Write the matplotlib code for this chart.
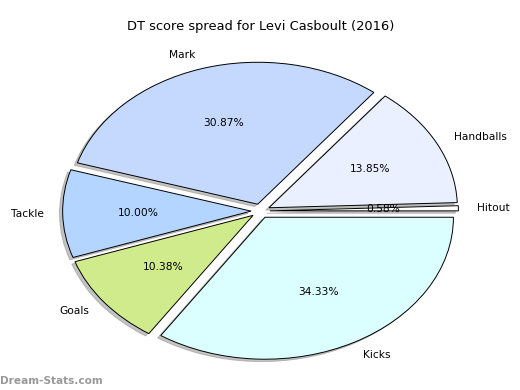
import matplotlib.pyplot as plt

# data
labels = ["Hitout", "Handballs", "Mark", "Tackle", "Goals", "Kicks"]
shares = [0.58, 13.85, 30.87, 10.00, 10.38, 34.33]
colours = ["#ffffff", "#eaf0ff", "#c5d9ff", "#b4d5ff", "#d0eb8c", "#dbffff"]
explode = [0.05, 0.05, 0.05, 0.05, 0.05, 0.05]

fig = plt.figure(figsize=(5.2, 3.9), dpi=100)
ax = fig.add_axes([0.048, 0.004, 0.906, 0.91])

wedges, texts, autotexts = ax.pie(
    shares,
    labels=labels,
    colors=colours,
    explode=explode,
    autopct="%1.2f%%",
    shadow={"ox": -0.012, "oy": -0.012, "color": "#888888"},
    startangle=0,
    wedgeprops={"edgecolor": "black", "linewidth": 0.7},
    textprops={"fontsize": 7.7},
)

ax.set_aspect("auto")
ax.set_xlim(-1.25, 1.25)
ax.set_ylim(-1.25, 1.25)

ax.set_title("DT score spread for Levi Casboult (2016)", fontsize=9.4, pad=2.5)

fig.text(0.0, 0.01, "Dream-Stats.com", color="#999999",
         fontsize=7.6, fontweight="bold", ha="left", va="bottom")

fig.savefig("out.png", dpi=100)
